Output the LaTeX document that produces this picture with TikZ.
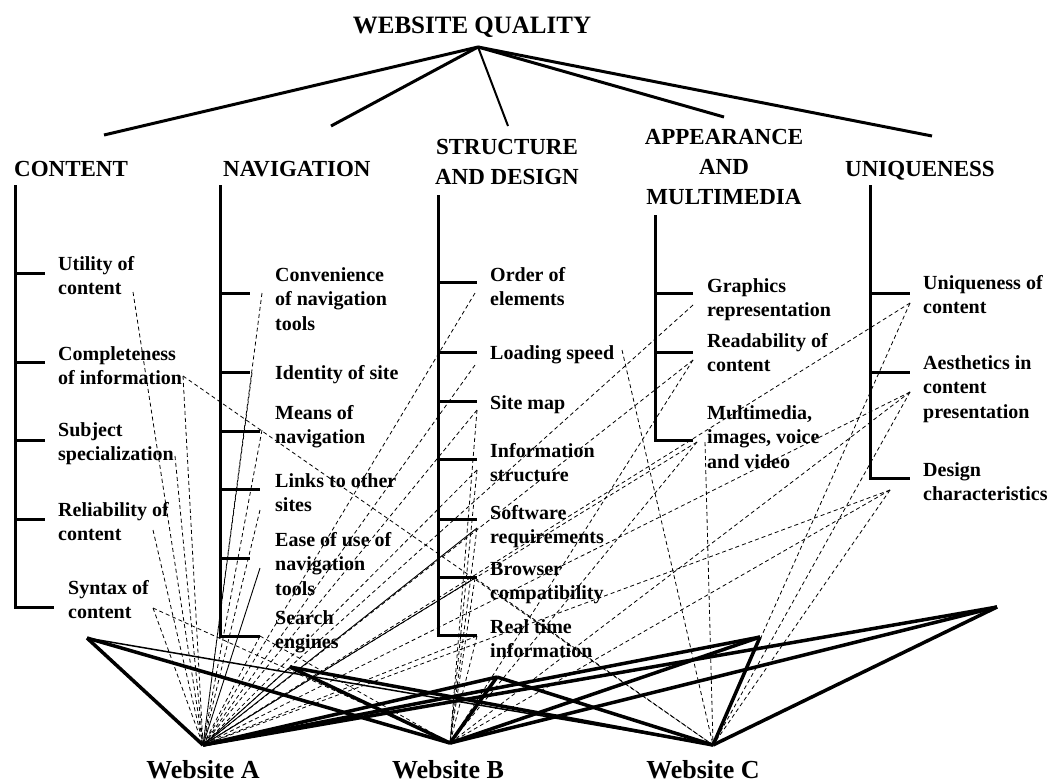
\documentclass[tikz,border=0pt]{standalone}
\usepackage{fontspec}
\setmainfont{Liberation Serif}
\usepackage{tikz}

\begin{document}
\begin{tikzpicture}[scale=0.35146]
\tikzstyle{every node}+=[inner sep=0pt]
\tikzstyle{head}=[font=\fontsize{23}{30}\selectfont\bfseries, align=center]
\tikzstyle{item}=[font=\fontsize{20}{24.5}\selectfont\bfseries, align=left, anchor=north west]
\tikzstyle{site}=[font=\fontsize{26}{30}\selectfont\bfseries, anchor=base]
\tikzstyle{branch}=[black, line width=3pt]
\tikzstyle{weaklink}=[black, line width=0.8pt, dash pattern=on 4pt off 3pt]
\tikzstyle{fairlink}=[black, line width=0.9pt]
\tikzstyle{stronglink}=[black, line width=3.5pt]
\useasboundingbox (0,0) rectangle (105.5,-78.2);
% title and the five criteria
\node [font=\fontsize{25}{30}\selectfont\bfseries, anchor=base] (quality) at (47.2,-3.3) {WEBSITE QUALITY};
\coordinate (apex) at (47.8,-4.7);
\coordinate (kc) at (10.4,-13.5);
\coordinate (kn) at (33.1,-12.6);
\coordinate (ks) at (50.8,-12.6);
\coordinate (ka) at (72.4,-11.7);
\coordinate (ku) at (93.2,-13.6);
\draw [branch] (apex) -- (kc);
\draw [branch] (apex) -- (kn);
\draw [black, line width=2pt] (apex) -- (ks);
\draw [branch] (apex) -- (ka);
\draw [branch] (apex) -- (ku);
\node [head, anchor=base west] (content) at (1.4,-17.6) {CONTENT};
\node [head, anchor=base west] (navigation) at (22.3,-17.6) {NAVIGATION};
\node [head, anchor=north] (structure) at (50.7,-13.9) {STRUCTURE\\AND DESIGN};
\node [head, anchor=north] (appearance) at (72.4,-12.9) {APPEARANCE\\AND\\MULTIMEDIA};
\node [head, anchor=base west] (uniqueness) at (84.5,-17.6) {UNIQUENESS};
% content
\draw [branch] (1.5,-18.5) -- (1.5,-60.7) -- (5.4,-60.7);
\draw [branch] (1.5,-27.3) -- (4.5,-27.3);
\draw [branch] (1.5,-36.2) -- (4.5,-36.2);
\draw [branch] (1.5,-44.0) -- (4.5,-44.0);
\draw [branch] (1.5,-51.9) -- (4.5,-51.9);
\node [item] (utility) at (5.8,-25.6) {Utility of\\content};
\node [item] (complete) at (5.8,-34.6) {Completeness\\of information};
\node [item] (subject) at (5.8,-42.2) {Subject\\specialization};
\node [item] (reliable) at (5.8,-50.2) {Reliability of\\content};
\node [item] (syntax) at (6.8,-58.0) {Syntax of\\content};
% navigation
\draw [branch] (22.0,-18.5) -- (22.0,-63.6) -- (26.0,-63.6);
\draw [branch] (22.0,-29.3) -- (25.0,-29.3);
\draw [branch] (22.0,-37.2) -- (25.0,-37.2);
\draw [branch] (22.0,-43.1) -- (26.0,-43.1);
\draw [branch] (22.0,-48.9) -- (26.0,-48.9);
\draw [branch] (22.0,-55.8) -- (25.0,-55.8);
\node [item] (convenience) at (27.5,-26.7) {Convenience\\of navigation\\tools};
\node [item] (identity) at (27.5,-36.5) {Identity of site};
\node [item] (means) at (27.5,-40.5) {Means of\\navigation};
\node [item] (links) at (27.5,-47.3) {Links to other\\sites};
\node [item] (ease) at (27.5,-53.2) {Ease of use of\\navigation\\tools};
\node [item] (search) at (27.5,-61.0) {Search\\engines};
% structure and design
\draw [branch] (43.8,-19.5) -- (43.8,-63.5) -- (47.7,-63.5);
\draw [branch] (43.8,-28.2) -- (47.7,-28.2);
\draw [branch] (43.8,-35.2) -- (47.7,-35.2);
\draw [branch] (43.8,-40.1) -- (47.7,-40.1);
\draw [branch] (43.8,-45.9) -- (47.7,-45.9);
\draw [branch] (43.8,-51.9) -- (47.7,-51.9);
\draw [branch] (43.8,-57.7) -- (47.7,-57.7);
\node [item] (order) at (49.0,-26.7) {Order of\\elements};
\node [item] (loading) at (49.0,-34.5) {Loading speed};
\node [item] (sitemap) at (49.0,-39.5) {Site map};
\node [item] (information) at (49.0,-44.3) {Information\\structure};
\node [item] (software) at (49.0,-50.5) {Software\\requirements};
\node [item] (browser) at (49.0,-56.2) {Browser\\compatibility};
\node [item] (realtime) at (49.0,-61.9) {Real time\\information};
% appearance and multimedia
\draw [branch] (65.5,-21.5) -- (65.5,-44.0) -- (69.3,-44.0);
\draw [branch] (65.5,-29.3) -- (69.3,-29.3);
\draw [branch] (65.5,-35.2) -- (69.3,-35.2);
\node [item] (graphics) at (70.7,-27.8) {Graphics\\representation};
\node [item] (readability) at (70.7,-33.3) {Readability of\\content};
\node [item] (multimedia) at (70.7,-40.5) {Multimedia,\\images, voice\\and video};
% uniqueness
\draw [branch] (87.0,-18.5) -- (87.0,-47.8) -- (91.0,-47.8);
\draw [branch] (87.0,-29.3) -- (91.0,-29.3);
\draw [branch] (87.0,-37.2) -- (91.0,-37.2);
\node [item] (unique) at (92.3,-27.5) {Uniqueness of\\content};
\node [item] (aesthetics) at (92.3,-35.5) {Aesthetics in\\content\\presentation};
\node [item] (design) at (92.3,-46.2) {Design\\characteristics};
% websites
\coordinate (webA) at (20.3,-74.5);
\coordinate (webB) at (45.0,-74.3);
\coordinate (webC) at (71.3,-74.5);
\node [site] (siteA) at (20.3,-77.8) {Website A};
\node [site] (siteB) at (44.8,-77.8) {Website B};
\node [site] (siteC) at (70.3,-77.8) {Website C};
% hooks of the links
\coordinate (cu) at (13.3,-29.2);
\coordinate (cc) at (18.3,-37.6);
\coordinate (cs) at (17.5,-45.6);
\coordinate (cr) at (15.3,-53.0);
\coordinate (cx) at (15.3,-60.8);
\coordinate (nc) at (26.2,-29.3);
\coordinate (ni) at (25.2,-37.3);
\coordinate (nm) at (26.2,-43.0);
\coordinate (nl) at (26.0,-51.0);
\coordinate (ne) at (26.0,-56.8);
\coordinate (ns) at (26.0,-63.6);
\coordinate (so) at (47.5,-29.3);
\coordinate (sl) at (47.5,-36.5);
\coordinate (slc) at (62.2,-35.0);
\coordinate (sm) at (47.7,-41.0);
\coordinate (si) at (47.7,-47.0);
\coordinate (sw) at (47.7,-52.8);
\coordinate (sb) at (47.5,-57.8);
\coordinate (st) at (47.7,-63.6);
\coordinate (ag) at (69.3,-30.5);
\coordinate (ar) at (69.3,-36.0);
\coordinate (am) at (69.7,-44.2);
\coordinate (amc) at (70.5,-44.2);
\coordinate (uu) at (91.0,-30.3);
\coordinate (ua) at (91.0,-39.2);
\coordinate (ud) at (89.0,-49.0);
\draw [weaklink] (cu) -- (webA);
\draw [weaklink] (cc) -- (webA);
\draw [weaklink] (cc) -- (webC);
\draw [weaklink] (cs) -- (webA);
\draw [weaklink] (cr) -- (webA);
\draw [weaklink] (cx) -- (webA);
\draw [weaklink] (cx) -- (webB);
\draw [weaklink] (nc) -- (webA);
\draw [weaklink] (ni) -- (webA);
\draw [weaklink] (nm) -- (webA);
\draw [weaklink] (nl) -- (webA);
\draw [fairlink] (ne) -- (webA);
\draw [weaklink] (ns) -- (webA);
\draw [weaklink] (ns) -- (webB);
\draw [weaklink] (so) -- (webA);
\draw [weaklink] (sl) -- (webA);
\draw [weaklink] (slc) -- (webC);
\draw [weaklink] (sm) -- (webA);
\draw [weaklink] (sm) -- (webB);
\draw [weaklink] (si) -- (webA);
\draw [weaklink] (si) -- (webB);
\draw [fairlink] (sw) -- (webA);
\draw [weaklink] (sw) -- (webB);
\draw [fairlink] (sb) -- (webA);
\draw [weaklink] (sb) -- (webB);
\draw [weaklink] (sb) -- (webC);
\draw [weaklink] (st) -- (webA);
\draw [weaklink] (st) -- (webB);
\draw [weaklink] (ag) -- (webA);
\draw [weaklink] (ar) -- (webA);
\draw [weaklink] (ar) -- (webB);
\draw [weaklink] (am) -- (webA);
\draw [weaklink] (am) -- (webB);
\draw [weaklink] (amc) -- (webC);
\draw [weaklink] (uu) -- (webA);
\draw [weaklink] (uu) -- (webC);
\draw [weaklink] (ua) -- (webA);
\draw [weaklink] (ua) -- (webB);
\draw [weaklink] (ua) -- (webC);
\draw [weaklink] (ud) -- (webA);
\draw [weaklink] (ud) -- (webB);
\draw [weaklink] (ud) -- (webC);
% overall scores of the criteria
\coordinate (p1) at (8.7,-63.8);
\coordinate (p2) at (29.0,-66.7);
\coordinate (p3) at (49.7,-67.7);
\coordinate (p4) at (76.0,-63.7);
\coordinate (p5) at (99.7,-60.7);
\draw [stronglink] (p1) -- (webA);
\draw [stronglink] (p1) -- (webB);
\draw [black, line width=1.5pt] (p1) -- (webC);
\draw [fairlink] (p2) -- (webA);
\draw [stronglink] (p2) -- (webB);
\draw [stronglink] (p2) -- (webC);
\draw [stronglink] (p3) -- (webA);
\draw [stronglink] (p3) -- (webB);
\draw [stronglink] (p3) -- (webC);
\draw [stronglink] (p4) -- (webA);
\draw [stronglink] (p4) -- (webB);
\draw [stronglink] (p4) -- (webC);
\draw [stronglink] (p5) -- (webA);
\draw [stronglink] (p5) -- (webB);
\draw [stronglink] (p5) -- (webC);
\end{tikzpicture}
\end{document}
